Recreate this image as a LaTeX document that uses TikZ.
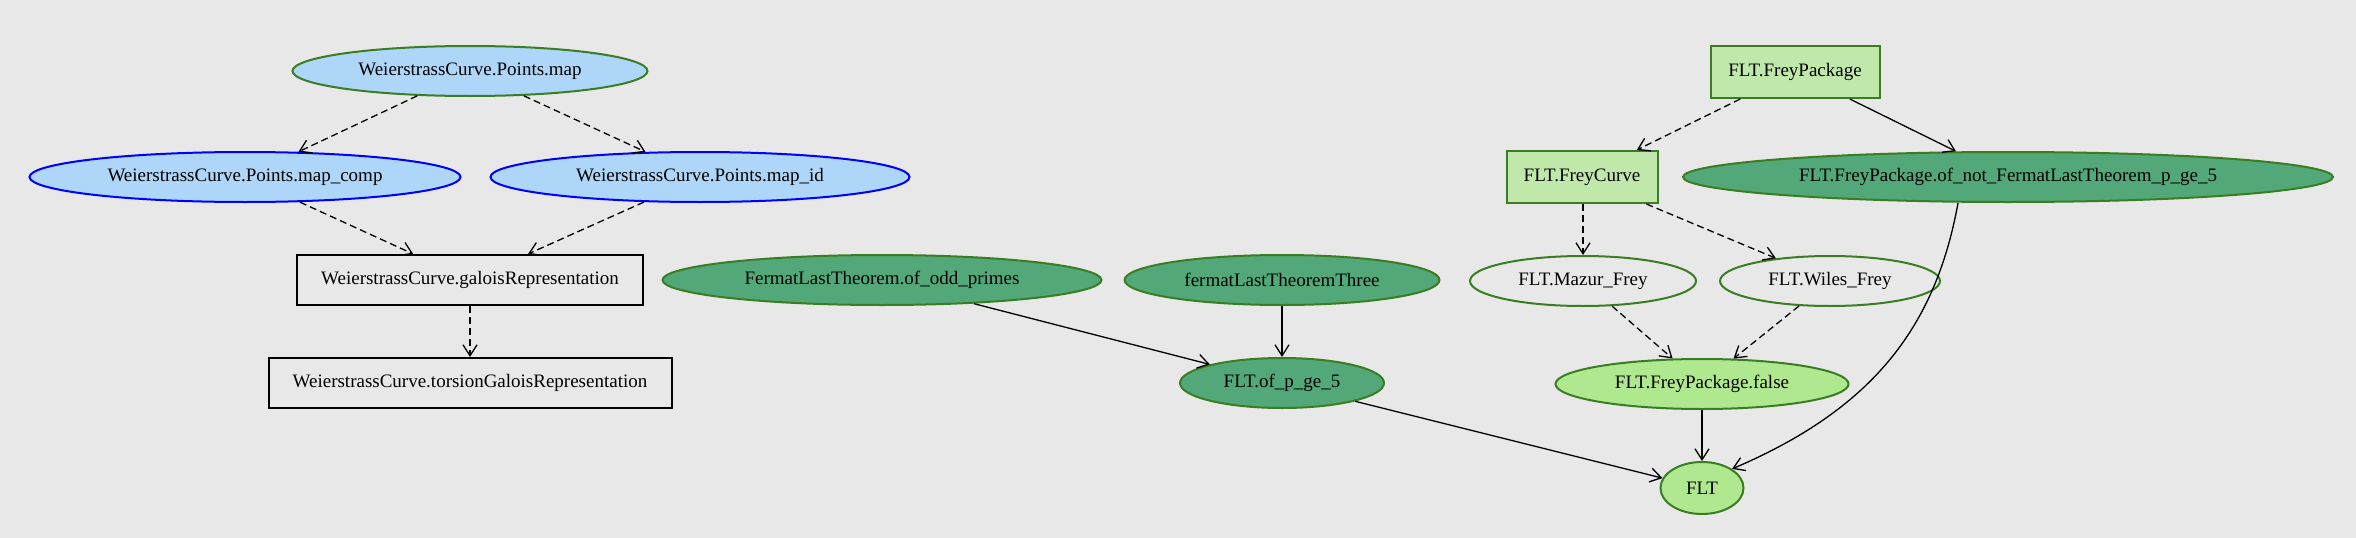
\documentclass[tikz,border=0pt]{standalone}
\usepackage{fontspec}
\setmainfont{Liberation Serif}
\usetikzlibrary{shapes.geometric,arrows.meta}
\definecolor{bg}{HTML}{E8E8E8}
\definecolor{lblue}{HTML}{AED6F8}
\definecolor{gborder}{HTML}{3A7D22}
\definecolor{lgreen}{HTML}{C0E8AA}
\definecolor{dgreen}{HTML}{52A878}
\definecolor{mgreen}{HTML}{B0E890}
\tikzset{
  base/.style={font=\fontsize{19}{22}\selectfont, line width=2pt, inner sep=0pt, minimum height=50pt},
  ell/.style={base, ellipse},
  blueell/.style={ell, draw=blue, fill=lblue},
  gblueell/.style={ell, draw=gborder, fill=lblue},
  rectb/.style={base, rectangle, draw=black},
  grect/.style={base, rectangle, draw=gborder, fill=lgreen},
  darkell/.style={ell, draw=gborder, fill=dgreen},
  plainell/.style={ell, draw=gborder},
  midell/.style={ell, draw=gborder, fill=mgreen},
  edge/.style={-{Straight Barb[length=11pt,width=14pt]}, line width=1.3pt},
  dedge/.style={edge, dash pattern=on 7pt off 4pt},
}
\begin{document}
\begin{tikzpicture}[x=1pt,y=-1pt]
\fill[bg] (0,0) rectangle (2356,538);
\useasboundingbox (0,0) rectangle (2356,538);
\node[gblueell, minimum width=355pt] (pm) at (470,71) {WeierstrassCurve.Points.map};
\node[blueell, minimum width=431pt] (pc) at (245,177) {WeierstrassCurve.Points.map\_comp};
\node[blueell, minimum width=419pt] (pi) at (700,177) {WeierstrassCurve.Points.map\_id};
\node[rectb, minimum width=346pt] (gr) at (470,280) {WeierstrassCurve.galoisRepresentation};
\node[rectb, minimum width=403pt] (tg) at (470,383) {WeierstrassCurve.torsionGaloisRepresentation};
\node[darkell, minimum width=439pt] (op) at (882,280) {FermatLastTheorem.of\_odd\_primes};
\node[darkell, minimum width=315pt] (f3) at (1282,280) {fermatLastTheoremThree};
\node[darkell, minimum width=204pt] (p5) at (1282,383) {FLT.of\_p\_ge\_5};
\node[grect, minimum width=169pt, minimum height=52pt] (fp) at (1795,72) {FLT.FreyPackage};
\node[grect, minimum width=151pt, minimum height=52pt] (fc) at (1582,177) {FLT.FreyCurve};
\node[darkell, minimum width=650pt] (nf) at (2008,177) {FLT.FreyPackage.of\_not\_FermatLastTheorem\_p\_ge\_5};
\node[plainell, minimum width=226pt] (mf) at (1583,281) {FLT.Mazur\_Frey};
\node[plainell, minimum width=220pt] (wf) at (1830,281) {FLT.Wiles\_Frey};
\node[midell, minimum width=293pt] (fa) at (1702,384) {FLT.FreyPackage.false};
\node[midell, minimum width=83pt, minimum height=52pt] (flt) at (1702,488) {FLT};
\draw[dedge] (pm) -- (pc);
\draw[dedge] (pm) -- (pi);
\draw[dedge] (pc) -- (gr);
\draw[dedge] (pi) -- (gr);
\draw[dedge] (gr) -- (tg);
\draw[edge] (op) -- (p5);
\draw[edge] (f3) -- (p5);
\draw[edge] (p5) -- (flt);
\draw[dedge] (fp) -- (fc);
\draw[edge] (fp) -- (nf);
\draw[dedge] (fc.south -| mf) -- (mf);
\draw[dedge] (fc) -- (wf);
\draw[dedge] (mf) -- (fa);
\draw[dedge] (wf) -- (fa);
\draw[edge] (fa) -- (flt);
\draw[edge] (nf.south) ++(-50,0) .. controls (1935,330) and (1870,410) .. (flt.north east);
\end{tikzpicture}
\end{document}
